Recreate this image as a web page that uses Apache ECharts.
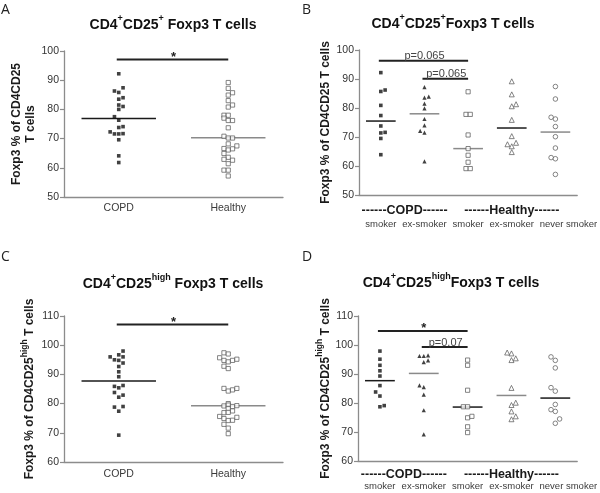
<!DOCTYPE html>
<html><head><meta charset="utf-8">
<script src="https://cdn.jsdelivr.net/npm/echarts@6/dist/echarts.min.js"></script>
<style>html,body{margin:0;padding:0;background:#fff}#c{width:600px;height:493px}</style>
</head><body><div id="c"></div>
<script>
// ---------- data ----------
const twoCats = ['COPD', 'Healthy'];
const fiveKeys = ['cs', 'ce', 'hs', 'he', 'hn'];
const fiveLabels = ['smoker', 'ex-smoker', 'smoker', 'ex-smoker', 'never smoker'];
const groupLabels = ['------COPD------', '------Healthy------'];
const ticks50 = [50, 100, 10];
const ticks60 = [60, 110, 10];

// Panel A (CD4+CD25+ Foxp3, COPD vs Healthy)
const aCopd = [92.2, 86.3, 85.8, 87.4, 83.5, 84.0, 81.5, 81.0, 80.0, 77.5, 76.3, 73.8, 74.1, 72.3, 71.6, 71.6, 71.7, 69.6, 64.1, 61.8];
const aCopdCol = [0, -1, 0, 1, 0, 1, 0, 1, 0, -1, 0, 0, 1, -2, -1, 0, 1, 0, 0, 0];
const aHealthy = [89.2, 87.2, 84.9, 85.7, 83.0, 80.8, 81.5, 78.0, 78.0, 77.0, 76.2, 76.2, 73.7, 70.8, 70.2, 70.2, 68.2, 67.5, 66.6, 66.1, 66.5, 64.9, 63.6, 62.9, 62.6, 61.4, 59.2, 59.2, 57.2];
const aHealthyCol = [0, 0, 0, 1, 0, 0, 1, -1, 0, -1, 0, 1, 0, -1, 0, 1, 0, 2, -1, 0, 1, -1, 0, -1, 1, 0, -1, 0, 0];
const aMeans = [76.9, 70.3];
const aSig = [[0, 1, 97.1]];
const aSigLabels = ['*'];

// Panel B (CD4+CD25+ Foxp3, by smoking)
const bCs = [92.2, 85.7, 86.2, 80.9, 77.4, 73.8, 71.4, 71.6, 69.5, 63.9];
const bCsCol = [0, 0, 1, 0, 0, 0, 0, 1, 0, 0];
const bCe = [87.2, 83.6, 83.9, 81.5, 79.9, 76.2, 74.0, 72.1, 71.5, 61.6];
const bCeCol = [0, 0, 1, 0, 0, 0, 0, -1, 0, 0];
const bHs = [85.6, 77.8, 77.8, 70.7, 66.0, 63.7, 61.3, 59.1, 59.1];
const bHsCol = [0, -0.5, 0.5, 0, 0, 0, 0, -0.5, 0.5];
const bHe = [89.2, 84.7, 80.6, 81.3, 75.9, 70.3, 67.5, 66.8, 68.0, 64.8];
const bHeCol = [0, 0, 0, 1, 0, 0, -1, 0, 1, 0];
const bHn = [87.4, 83.1, 76.8, 76.2, 73.6, 70.1, 66.2, 62.9, 62.5, 57.1];
const bHnCol = [0, 0, -1, 0, 0, 0, 0, -1, 0, 0];
const bMeans = [75.5, 78.0, 66.0, 73.1, 71.7];
const bSig = [[0, 2, 96.3], [1, 2, 90.1]];
const bSigLabels = ['p=0.065', 'p=0.065'];

// Panel C (CD4+CD25high Foxp3, COPD vs Healthy)
const cCopd = [98.0, 96.7, 96.0, 96.0, 95.0, 94.8, 93.9, 92.7, 90.9, 89.2, 85.9, 85.4, 86.2, 83.8, 82.2, 82.9, 78.8, 79.0, 77.4, 69.2];
const cCopdCol = [1, 0, -2, 1, -1, 0, 1, 0, 0, 0, -1, 0, 1, -1, 0, 1, -1, 1, 0, 0];
const cHealthy = [97.4, 97.0, 95.7, 94.8, 94.3, 94.8, 95.2, 92.8, 92.0, 85.2, 84.3, 84.7, 85.2, 80.0, 79.2, 79.5, 79.0, 79.3, 78.3, 77.5, 76.9, 77.0, 75.6, 74.9, 74.2, 74.3, 75.3, 72.9, 71.6, 69.7];
const cHealthyCol = [-1, 0, -2, -1, 0, 1, 2, -1, 0, -1, 0, 1, 2, 0, -1, 0, 1, 2, 0, 1, -1, 0, -2, -1, 0, 1, 2, -1, 0, 0];
const cMeans = [87.7, 79.3];
const cSig = [[0, 1, 107.1]];
const cSigLabels = ['*'];

// Panel D (CD4+CD25high Foxp3, by smoking)
const dCs = [97.9, 95.1, 93.0, 91.1, 89.3, 86.0, 83.8, 82.4, 78.7, 79.1];
const dCsCol = [0, 0, 0, 0, 0, 0, -1, 0, 0, 1];
const dCe = [96.2, 96.2, 96.4, 94.1, 94.7, 86.1, 85.5, 82.9, 77.5, 69.2];
const dCeCol = [-1, 0, 1, 0, 1, -1, 0, 0, 0, 0];
const dHs = [94.8, 93.0, 84.4, 78.7, 78.7, 74.9, 75.4, 71.8, 69.8];
const dHsCol = [0, 0, 0, -1, 0, 0, 1, 0, 0];
const dHe = [97.4, 97.1, 94.8, 95.4, 85.2, 79.3, 80.1, 77.1, 74.4, 75.4];
const dHeCol = [-1, 0, 0, 1, 0, 0, 1, 0, 0, 1];
const dHn = [95.9, 94.7, 92.1, 85.3, 84.1, 79.5, 77.7, 77.1, 73.0, 74.5];
const dHnCol = [-1, 0, 0, -1, 0, 0, -1, 0, 0, 1];
const dMeans = [87.7, 90.2, 78.6, 82.6, 81.7];
const dSig = [[0, 2, 104.8], [1, 2, 99.3]];
const dSigLabels = ['*', 'p=0.07'];

// ---------- styles ----------
const FONT = '"Liberation Sans", Arial, sans-serif';
const JIT = 4.3;
const DARK = '#1a1a1a', GRAY = '#8a8a8a';
const SYM = {
  fsq: {symbol: 'rect', symbolSize: 3.6, itemStyle: {color: '#111'}},
  ftr: {symbol: 'triangle', symbolSize: 4.2, itemStyle: {color: '#111'}},
  osq: {symbol: 'rect', symbolSize: 4.2, itemStyle: {color: '#fff', borderColor: '#555', borderWidth: 0.9}},
  otr: {symbol: 'triangle', symbolSize: 5, itemStyle: {color: '#fff', borderColor: '#555', borderWidth: 0.9}},
  oci: {symbol: 'circle', symbolSize: 4.6, itemStyle: {color: '#fff', borderColor: '#555', borderWidth: 0.9}}
};

function scatter(ax, cat, vals, cols, sym) {
  return Object.assign({
    type: 'scatter', xAxisIndex: ax, yAxisIndex: ax, silent: true, z: 3,
    data: vals.map((v, i) => ({value: [cat, v], symbolOffset: [cols[i] * JIT, 0]}))
  }, SYM[sym]);
}
function meanSeries(ax, means, colors) {
  return {
    type: 'custom', xAxisIndex: ax, yAxisIndex: ax, silent: true, z: 2,
    data: means.map((m, i) => [i, m]),
    renderItem: (p, api) => {
      const c = api.coord([api.value(0), api.value(1)]);
      const bw = api.size([1, 0])[0];
      return {type: 'line', shape: {x1: c[0] - bw * 0.34, y1: c[1], x2: c[0] + bw * 0.34, y2: c[1]},
        style: {stroke: colors[p.dataIndex], lineWidth: 1.5}};
    }
  };
}
function sigSeries(ax, sig, labels) {
  return {
    type: 'custom', xAxisIndex: ax, yAxisIndex: ax, silent: true, z: 4,
    data: sig,
    renderItem: (p, api) => {
      const p1 = api.coord([api.value(0), api.value(2)]);
      const p2 = api.coord([api.value(1), api.value(2)]);
      const lab = labels[p.dataIndex];
      const star = lab === '*';
      return {type: 'group', children: [
        {type: 'line', shape: {x1: p1[0] - 2, y1: p1[1], x2: p2[0], y2: p2[1]}, style: {stroke: '#222', lineWidth: 2}},
        {type: 'text', x: (p1[0] + p2[0]) / 2, y: p1[1] + (star ? 4 : 1),
          style: {text: lab, font: star ? 'bold 13px ' + FONT : '11px ' + FONT, fill: star ? '#222' : '#444',
            align: 'center', verticalAlign: 'bottom', textAlign: 'center', textVerticalAlign: 'bottom'}}
      ]};
    }
  };
}
const nameRich = {
  m: {fontFamily: FONT, fontWeight: 'bold', fontSize: 12, color: '#1a1a1a', lineHeight: 16, verticalAlign: 'bottom'},
  s: {fontFamily: FONT, fontWeight: 'bold', fontSize: 8.5, color: '#1a1a1a', lineHeight: 16, verticalAlign: 'top'}
};
function yAxis(gi, t, name, gap) {
  return {
    type: 'value', gridIndex: gi, min: t[0], max: t[1], interval: t[2],
    name: name, nameLocation: 'middle', nameGap: gap,
    nameTextStyle: {fontFamily: FONT, fontWeight: 'bold', fontSize: 12, color: '#1a1a1a', lineHeight: 14, rich: nameRich},
    axisLine: {show: true, lineStyle: {color: '#8c8c8c', width: 1.3}},
    axisTick: {show: true, length: 4, lineStyle: {color: '#8c8c8c', width: 1.2}},
    axisLabel: {fontFamily: FONT, fontSize: 10.5, color: '#333', margin: 5},
    splitLine: {show: false}
  };
}
function xAxis(gi, data, labelFmt, margin, fontSize, rich) {
  return {
    type: 'category', gridIndex: gi, data: data, boundaryGap: true,
    axisLine: {show: true, lineStyle: {color: '#8c8c8c', width: 1.3}},
    axisTick: {show: false},
    axisLabel: {interval: 0, fontFamily: FONT, fontSize: fontSize, color: '#3a3a3a', margin: margin,
      formatter: labelFmt, rich: rich},
    splitLine: {show: false}
  };
}
const smallRich = {
  n: {fontFamily: FONT, fontSize: 9.5, color: '#3a3a3a', padding: [0, 0, 0, 26]}
};
const fmtFive = (v, i) => i === 4 ? '{n|' + fiveLabels[i] + '}' : fiveLabels[i];

const chart = echarts.init(document.getElementById('c'));
const titleRich = {
  m: {fontFamily: FONT, fontWeight: 'bold', fontSize: 14, fill: '#111', lineHeight: 18, verticalAlign: 'bottom'},
  s: {fontFamily: FONT, fontWeight: 'bold', fontSize: 9, fill: '#111', lineHeight: 18, verticalAlign: 'top'}
};
function titleText(x, y, t) {
  return {type: 'text', x: x, y: y, silent: true,
    style: {text: t, rich: titleRich, align: 'center', verticalAlign: 'top', textAlign: 'center', textVerticalAlign: 'top'}};
}
function letter(x, y, t) {
  return {type: 'text', x: x, y: y, silent: true,
    style: {text: t, font: '14px "Open Sans", ' + FONT, fill: '#222', align: 'left', verticalAlign: 'top'}};
}

chart.setOption({
  animation: false,
  backgroundColor: '#fff',
  grid: [
    {left: 64, top: 51, width: 219, height: 146},
    {left: 359, top: 50, width: 220, height: 145},
    {left: 64, top: 316, width: 219, height: 146},
    {left: 358, top: 316, width: 220, height: 145}
  ],
  xAxis: [
    xAxis(0, twoCats, null, 6, 10.5),
    xAxis(1, fiveKeys, fmtFive, 24, 9.5, smallRich),
    xAxis(2, twoCats, null, 7, 10.5),
    xAxis(3, fiveKeys, fmtFive, 20, 9.5, smallRich)
  ],
  yAxis: [
    yAxis(0, ticks50, 'Foxp3 % of CD4CD25\nT cells', 25),
    yAxis(1, ticks50, 'Foxp3 % of CD4CD25 T cells', 22),
    yAxis(2, ticks60, '{m|Foxp3 % of CD4CD25}{s|high}{m| T cells}', 28),
    yAxis(3, ticks60, '{m|Foxp3 % of CD4CD25}{s|high}{m| T cells}', 25)
  ],
  series: [
    scatter(0, 0, aCopd, aCopdCol, 'fsq'),
    scatter(0, 1, aHealthy, aHealthyCol, 'osq'),
    meanSeries(0, aMeans, [DARK, GRAY]),
    sigSeries(0, aSig, aSigLabels),

    scatter(1, 0, bCs, bCsCol, 'fsq'),
    scatter(1, 1, bCe, bCeCol, 'ftr'),
    scatter(1, 2, bHs, bHsCol, 'osq'),
    scatter(1, 3, bHe, bHeCol, 'otr'),
    scatter(1, 4, bHn, bHnCol, 'oci'),
    meanSeries(1, bMeans, [DARK, GRAY, GRAY, DARK, GRAY]),
    sigSeries(1, bSig, bSigLabels),

    scatter(2, 0, cCopd, cCopdCol, 'fsq'),
    scatter(2, 1, cHealthy, cHealthyCol, 'osq'),
    meanSeries(2, cMeans, [DARK, GRAY]),
    sigSeries(2, cSig, cSigLabels),

    scatter(3, 0, dCs, dCsCol, 'fsq'),
    scatter(3, 1, dCe, dCeCol, 'ftr'),
    scatter(3, 2, dHs, dHsCol, 'osq'),
    scatter(3, 3, dHe, dHeCol, 'otr'),
    scatter(3, 4, dHn, dHnCol, 'oci'),
    meanSeries(3, dMeans, [DARK, GRAY, DARK, GRAY, DARK]),
    sigSeries(3, dSig, dSigLabels)
  ]
});

// group labels under the five-category axes, positioned from the axes themselves
const gx = (ax, i) => chart.convertToPixel({xAxisIndex: ax}, i);
const gy = (ax, v) => chart.convertToPixel({yAxisIndex: ax}, v);
function groupText(ax, yBase, dy) {
  const y = gy(ax, yBase) + dy;
  const xs = [(gx(ax, 0) + gx(ax, 1)) / 2 + 2, gx(ax, 3)];
  return groupLabels.map((t, i) => ({type: 'text', x: xs[i], y: y, silent: true,
    style: {text: t, font: 'bold 12.5px ' + FONT, fill: '#1a1a1a', align: 'center', verticalAlign: 'middle',
      textAlign: 'center', textVerticalAlign: 'middle'}}));
}
chart.setOption({
  graphic: [
    letter(1, 3, 'A'), letter(302, 3, 'B'), letter(1, 250, 'C'), letter(302, 250, 'D'),
    titleText(173, 14, '{m|CD4}{s|+}{m|CD25}{s|+}{m| Foxp3 T cells}'),
    titleText(453, 13, '{m|CD4}{s|+}{m|CD25}{s|+}{m|Foxp3 T cells}'),
    titleText(173, 273, '{m|CD4}{s|+}{m|CD25}{s|high}{m| Foxp3 T cells}'),
    titleText(451, 272, '{m|CD4}{s|+}{m|CD25}{s|high}{m|Foxp3 T cells}')
  ].concat(groupText(1, 50, 16), groupText(3, 60, 14))
});
</script>
</body></html>
